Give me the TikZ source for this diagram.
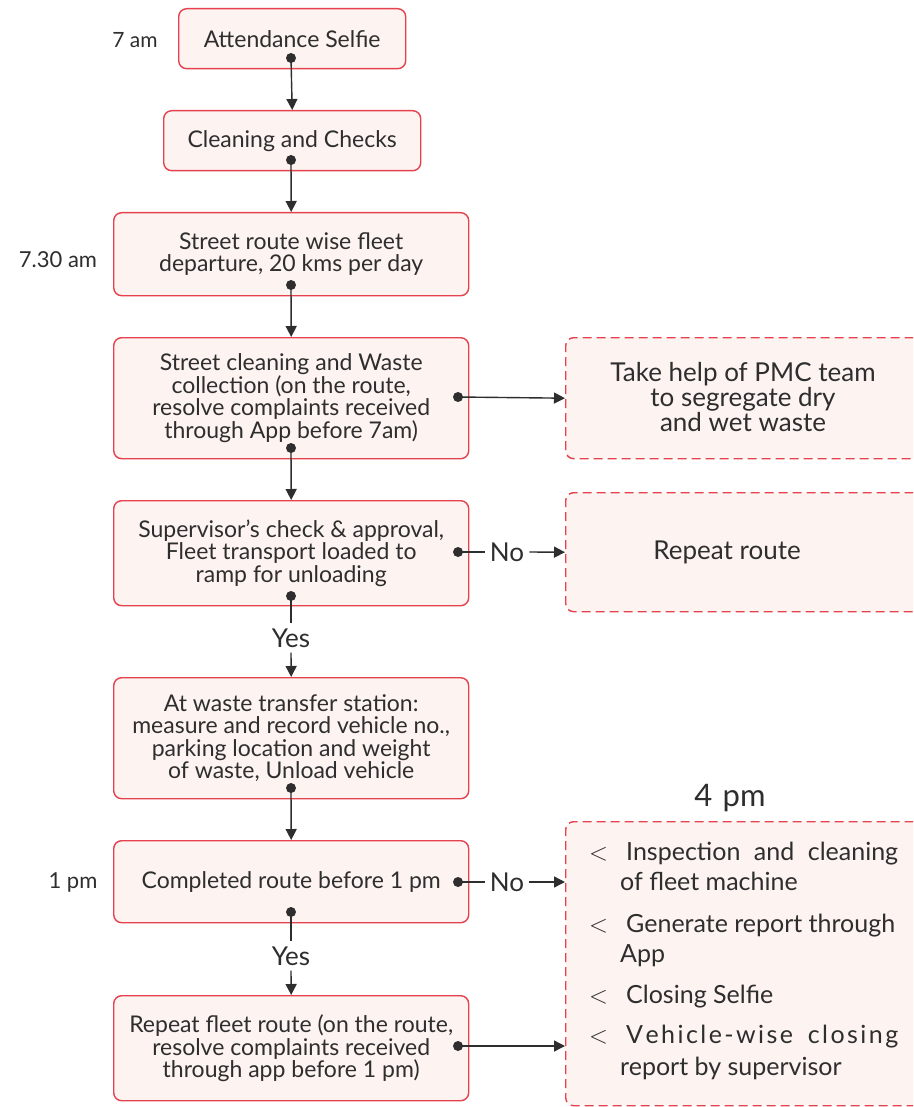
\documentclass[tikz,border=0pt]{standalone}
\usepackage{fontspec}
\setmainfont{Lato}
\usetikzlibrary{arrows.meta}
\definecolor{bred}{HTML}{E5424D}
\definecolor{bfill}{HTML}{FDF3F1}
\definecolor{txt}{HTML}{2E2E2E}
\tikzset{
 box/.style={draw=bred, fill=bfill, line width=1.4pt, rounded corners=8pt, align=center, text=txt, font=\fontsize{23}{22.5}\selectfont, inner sep=0pt, anchor=north west},
 dbox/.style={box, dash pattern=on 9pt off 5pt},
 conn/.style={line width=1.4pt, draw=txt},
 arr/.style={conn, -{Triangle[length=11pt,width=11pt]}},
 dotc/.style={circle, fill=txt, inner sep=0pt, minimum size=10pt},
 lab/.style={text=txt, font=\fontsize{22}{24}\selectfont, inner sep=1pt},
 yn/.style={text=txt, font=\fontsize{26}{26}\selectfont, inner sep=5pt},
 bul/.style={text=txt, font=\fontsize{25}{26}\selectfont, inner sep=0pt, anchor=base west},
}
\begin{document}
\begin{tikzpicture}[x=1pt,y=-1pt]
\useasboundingbox (0,0) rectangle (913,1107);
\clip (0,0) rectangle (913,1107);
\fill[white] (0,0) rectangle (913,1107);
% main boxes
\node[box, minimum width=227, minimum height=60] (b1) at (178,8) {Attendance Selfie};
\node[box, minimum width=257, minimum height=60] (b2) at (163,110) {Cleaning and Checks};
\node[box, minimum width=355, minimum height=83] (b3) at (113,212) {Street route wise fleet\\departure, 20 kms per day};
\node[box, minimum width=355, minimum height=121] (b4) at (113,337) {Street cleaning and Waste\\collection (on the route,\\resolve complaints received\\through App before 7am)};
\node[box, minimum width=355, minimum height=105] (b5) at (113,500) {Supervisor's check \& approval,\\Fleet transport loaded to\\ramp for unloading};
\node[box, minimum width=355, minimum height=121] (b6) at (113,677) {At waste transfer station:\\measure and record vehicle no.,\\parking location and weight\\of waste, Unload vehicle};
\node[box, minimum width=355, minimum height=82] (b7) at (113,840) {Completed route before 1 pm};
\node[box, minimum width=355, minimum height=105] (b8) at (113,995) {Repeat fleet route (on the route,\\resolve complaints received\\through app before 1 pm)};
% side boxes
\node[dbox, minimum width=370, minimum height=121] (r1) at (565,337) {};
\node[dbox, minimum width=370, minimum height=119] (r2) at (565,492) {};
\node[dbox, minimum width=370, minimum height=284] (r3) at (565,821) {};
\node[text=txt, font=\fontsize{26}{23.5}\selectfont, align=center] (r1t) at (743,397) {Take help of PMC team\\to segregate dry\\and wet waste};
\node[text=txt, font=\fontsize{26}{26}\selectfont] (r2t) at (727,552) {Repeat route};
% time labels
\node[lab, font=\fontsize{21}{24}\selectfont] (t1) at (135,40) {7 am};
\node[lab] (t2) at (58,260) {7.30 am};
\node[lab] (t3) at (73,882) {1 pm};
\node[text=txt, font=\fontsize{31}{32}\selectfont] (t4) at (730,798) {4\,\,pm};
% bullet list
\node[bul] (l1a) at (589,860) {$<$};
\node[bul] (l1) at (626,860) {\hbox to 272pt{Inspection\hfill and\hfill cleaning}};
\node[bul] (l1b) at (620,890) {of fleet machine};
\node[bul] (l2a) at (589,932) {$<$};
\node[bul] (l2) at (626,932) {\hbox to 269pt{Generate\hfill report\hfill through}};
\node[bul] (l2b) at (620,962) {App};
\node[bul] (l3a) at (589,1003) {$<$};
\node[bul] (l3) at (626,1003) {Closing Selfie};
\node[bul] (l4a) at (589,1043) {$<$};
\node[bul] (l4) at (626,1043) {\hbox to 272pt{V\hfill e\hfill h\hfill i\hfill c\hfill l\hfill e\hfill -\hfill w\hfill i\hfill s\hfill e\hfill\hfill\hfill\hfill\hfill\hfill c\hfill l\hfill o\hfill s\hfill i\hfill n\hfill g}};
\node[bul] (l4b) at (620,1075) {report by supervisor};
% dots
\node[dotc] (d1) at (291,58) {};
\node[dotc] (d2) at (291,160) {};
\node[dotc] (d3) at (291,285) {};
\node[dotc] (d4) at (291,448) {};
\node[dotc] (d4r) at (458,397) {};
\node[dotc] (d5) at (291,596) {};
\node[dotc] (d5r) at (458,552) {};
\node[dotc] (d6) at (291,788) {};
\node[dotc] (d7) at (291,912) {};
\node[dotc] (d7r) at (458,882) {};
\node[dotc] (d8r) at (458,1046) {};
% yes / no labels
\node[yn] (y1) at (291,638) {Yes};
\node[yn] (y2) at (291,956) {Yes};
\node[yn] (n1) at (507,552) {No};
\node[yn] (n2) at (507,882) {No};
% connectors
\draw[arr] (d1.center) -- (b2.north);
\draw[arr] (d2.center) -- (b3.north);
\draw[arr] (d3.center) -- (b4.north);
\draw[arr] (d4.center) -- (b5.north);
\draw[arr] (d4r.center) -- (r1.west);
\draw[conn] (d5.center) -- (y1.north);
\draw[arr] (y1.south) -- (b6.north);
\draw[conn] (d5r.center) -- (n1.west);
\draw[arr] (n1.east) -- (r2.west);
\draw[arr] (d6.center) -- (b7.north);
\draw[conn] (d7.center) -- (y2.north);
\draw[arr] (y2.south) -- (b8.north);
\draw[conn] (d7r.center) -- (n2.west);
\draw[arr] (n2.east) -- (n2.east -| r3.west);
\draw[arr] (d8r.center) -- (d8r.center -| r3.west);
\end{tikzpicture}
\end{document}
